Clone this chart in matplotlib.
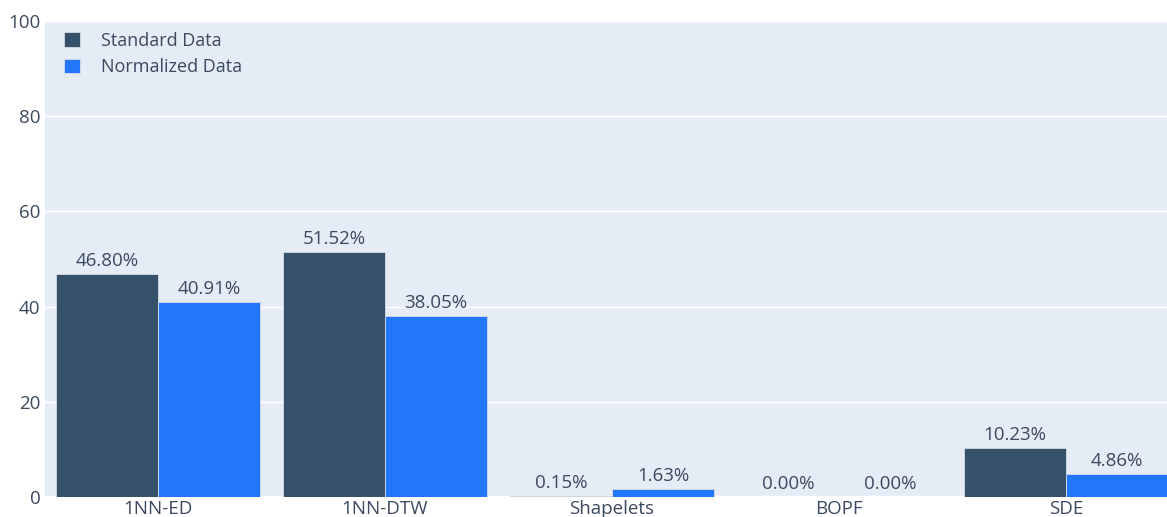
import matplotlib
matplotlib.use("Agg")
import matplotlib.pyplot as plt
import numpy as np

plt.rcParams['font.family'] = ['Open Sans', 'DejaVu Sans']

categories = ["1NN-ED", "1NN-DTW", "Shapelets", "BOPF", "SDE"]
standard_data = [46.80, 51.52, 0.15, 0.00, 10.23]
normalized_data = [40.91, 38.05, 1.63, 0.00, 4.86]
series_names = ["Standard Data", "Normalized Data"]
colors = ["#36526B", "#2276FC"]
yticks = [0, 20, 40, 60, 80, 100]

text_color = "#3b4a60"
fs = 13.5

fig = plt.figure(figsize=(11.67, 5.17), dpi=100)
W, H = 1167, 517
ax = fig.add_axes([44.5 / W, 20 / H, 1135 / W, 476 / H])
ax.set_facecolor("#E5ECF6")
for s in ax.spines.values():
    s.set_visible(False)

x = np.arange(len(categories))
bw = 0.45
for i, (vals, name, c) in enumerate(zip([standard_data, normalized_data], series_names, colors)):
    pos = x + (i - 0.5) * bw
    ax.bar(pos, vals, width=bw, color=c, edgecolor="#d6dde8", linewidth=0.6,
           label=name, zorder=3)
    for p, v in zip(pos, vals):
        ax.annotate(f"{v:.2f}%", (p, v), xytext=(0, 3), textcoords="offset points",
                    ha="center", va="bottom", fontsize=fs, color=text_color, zorder=4)

ax.set_xlim(-0.5, len(categories) - 0.5)
ax.set_ylim(0, 100)
ax.set_yticks(yticks)
ax.set_yticklabels([str(t) for t in yticks])
ax.set_xticks(x)
ax.set_xticklabels(categories)
ax.tick_params(axis="both", length=0, labelsize=fs, labelcolor=text_color)
ax.tick_params(axis="x", pad=2)
ax.tick_params(axis="y", pad=3)
ax.grid(axis="y", color="white", linewidth=1.0, zorder=0)
ax.set_axisbelow(True)
ax.axhline(0, color="white", linewidth=2.5, zorder=1)

leg = ax.legend(loc="upper left", bbox_to_anchor=(0.008, 1.0), frameon=False,
                fontsize=13, handlelength=0.85, handleheight=0.85, handletextpad=1.2,
                labelspacing=0.45, borderaxespad=0.3, borderpad=0.3)
for t in leg.get_texts():
    t.set_color(text_color)

fig.savefig("out.png", dpi=100)
